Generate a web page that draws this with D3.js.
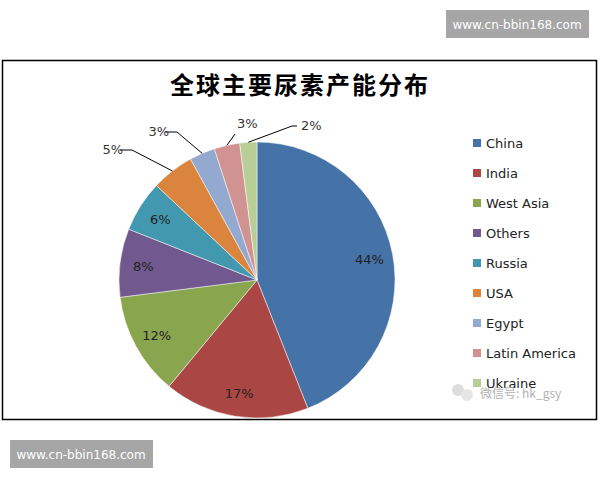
<!DOCTYPE html>
<html><head><meta charset="utf-8">
<script src="https://cdn.jsdelivr.net/npm/d3@7"></script>
<style>body{margin:0;background:#fff}</style>
</head><body>
<svg id="c" width="600" height="480"></svg>
<script>
var names = ["China","India","West Asia","Others","Russia","USA","Egypt","Latin America","Ukraine"];
var values = [44,17,12,8,6,5,3,3,2];
var colors = ["#4572a7","#aa4643","#89a54e","#71588f","#4198af","#db843d","#93a9cf","#d19392","#b9cd96"];

var svg = d3.select("#c");
var font = "'DejaVu Sans', 'Noto Sans', sans-serif";

// watermarks
function mark(x, y) {
  svg.append("rect").attr("x", x).attr("y", y).attr("width", 143).attr("height", 28).attr("fill", "#a6a6a6");
  svg.append("text").attr("x", x + 71).attr("y", y + 19).attr("text-anchor", "middle")
    .attr("fill", "#fff").attr("font-family", font).attr("font-size", 12).text("www.cn-bbin168.com");
}
mark(446, 10);
mark(10, 440);

svg.append("rect").attr("x", 2.5).attr("y", 60.5).attr("width", 594).attr("height", 359)
  .attr("fill", "#fff").attr("stroke", "#000").attr("stroke-width", 1.5);

svg.append("text").attr("x", 300).attr("y", 94).attr("text-anchor", "middle")
  .attr("font-family", "'Noto Sans CJK SC'").attr("font-size", 24).attr("font-weight", "bold")
  .attr("letter-spacing", 2).text("全球主要尿素产能分布");

var cx = 257, cy = 280, r = 138;
var pie = d3.pie().sort(null).value(function(d){ return d; });
var arcs = pie(values);
var arc = d3.arc().innerRadius(0).outerRadius(r);
var g = svg.append("g").attr("transform", "translate(" + cx + "," + cy + ")");
g.selectAll("path").data(arcs).enter().append("path")
  .attr("d", arc).attr("fill", function(d, i){ return colors[i]; })
  .attr("stroke", "#fff").attr("stroke-width", 0.5);

var inner = d3.arc().innerRadius(r * 0.83).outerRadius(r * 0.83);
arcs.forEach(function(d, i) {
  if (i < 5) {
    var p = inner.centroid(d);
    g.append("text").attr("x", p[0]).attr("y", p[1] + 5).attr("text-anchor", "middle")
      .attr("font-family", font).attr("font-size", 13).attr("fill", "#222").text(values[i] + "%");
  }
});

// outside labels with leader lines
var outside = [
  {i: 5, lx: -125, ly: -134, tx: -134},
  {i: 6, lx: -80, ly: -152, tx: -88},
  {i: 7, lx: -22, ly: -160, tx: -20},
  {i: 8, lx: 40, ly: -158, tx: 44}
];
outside.forEach(function(o) {
  var d = arcs[o.i];
  var a = (d.startAngle + d.endAngle) / 2;
  var ex = Math.sin(a) * r, ey = -Math.cos(a) * r;
  var pts = o.i == 8 ? [[ex, ey], [o.lx - 5, o.ly + 4], [o.lx, o.ly + 4]]
          : o.i == 7 ? [[ex, ey], [o.lx, o.ly + 14]]
          : [[ex, ey], [o.lx, o.ly + 4], [o.lx - 12, o.ly + 4]];
  g.append("path").attr("d", d3.line()(pts)).attr("fill", "none").attr("stroke", "#000");
  g.append("text").attr("x", o.tx).attr("y", o.ly + 8)
    .attr("text-anchor", o.i >= 7 ? "start" : "end")
    .attr("font-family", font).attr("font-size", 13).attr("fill", "#333").text(values[o.i] + "%");
});

var lg = svg.append("g");
names.forEach(function(n, i) {
  var y = 143 + i * 30;
  lg.append("rect").attr("x", 473).attr("y", y - 4).attr("width", 8).attr("height", 8).attr("fill", colors[i]);
  lg.append("text").attr("x", 486).attr("y", y + 5).attr("font-family", font).attr("font-size", 13)
    .attr("fill", "#222").text(n);
});

// wechat watermark
svg.append("circle").attr("cx", 458).attr("cy", 390).attr("r", 6).attr("fill", "#ddd");
svg.append("circle").attr("cx", 467).attr("cy", 395).attr("r", 6).attr("fill", "#e6e6e6");
svg.append("text").attr("x", 480).attr("y", 398).attr("font-family", "'Noto Sans CJK SC'")
  .attr("font-size", 12).attr("fill", "#aaa").attr("opacity", 0.9).text("微信号: hk_gsy");
</script>
</body></html>
